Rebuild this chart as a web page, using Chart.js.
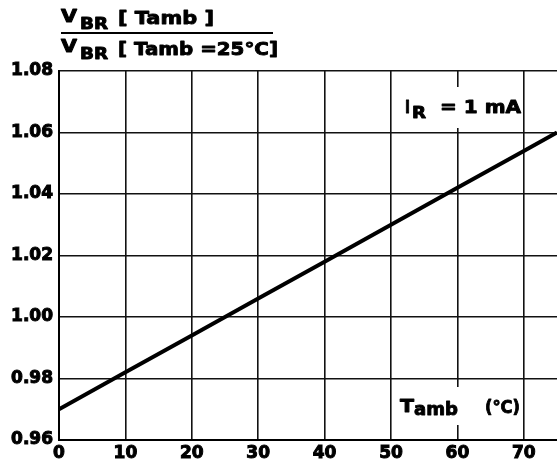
<!DOCTYPE html>
<html>
<head>
<meta charset="utf-8">
<script src="https://cdn.jsdelivr.net/npm/chart.js@4.4.1/dist/chart.umd.min.js"></script>
<style>
  html, body { margin: 0; padding: 0; background: #fff; }
  #wrap { width: 557px; height: 468px; position: relative; }
</style>
</head>
<body>
<div id="wrap"><canvas id="vbrChart"></canvas></div>
<script>
// values
const tempC = [0, 10, 20, 30, 40, 50, 60, 70, 75];
const vbrRatio = [0.970, 0.982, 0.994, 1.006, 1.018, 1.030, 1.042, 1.054, 1.060];
const xTicks = [0, 10, 20, 30, 40, 50, 60, 70];
const yTicks = [0.96, 0.98, 1.00, 1.02, 1.04, 1.06, 1.08];

const FONT = '"DejaVu Sans", "Liberation Sans", sans-serif';

// draw heavy text squeezed/stretched to a given width
function fitText(ctx, txt, x, y, size, w) {
    ctx.save();
    ctx.font = 'bold ' + size + 'px ' + FONT;
    const m = ctx.measureText(txt).width;
    ctx.translate(x, y);
    ctx.scale(w / m, 1);
    ctx.lineWidth = 0.9;
    ctx.strokeStyle = '#000';
    ctx.lineJoin = 'round';
    ctx.strokeText(txt, 0, 0);
    ctx.fillText(txt, 0, 0);
    ctx.restore();
}

const labelsPlugin = {
    id: 'labels',
    afterDraw(chart) {
        const ctx = chart.ctx;
        ctx.save();
        ctx.fillStyle = '#000';
        ctx.textBaseline = 'alphabetic';
        ctx.textAlign = 'left';

        // y axis title as a fraction
        fitText(ctx, 'V', 61, 22, 17, 16);
        fitText(ctx, 'BR', 80, 29, 15, 28);
        fitText(ctx, '[ Tamb ]', 118, 24, 18, 96);
        ctx.fillRect(61, 32, 212, 2);
        fitText(ctx, 'V', 61, 52, 17, 16);
        fitText(ctx, 'BR', 80, 59, 15, 28);
        fitText(ctx, '[ Tamb =25°C]', 118, 55, 18, 160);

        // IR = 1 mA box
        ctx.fillStyle = '#fff';
        ctx.fillRect(400, 87, 122, 41);
        ctx.fillStyle = '#000';
        fitText(ctx, 'I', 405, 113, 18, 5);
        fitText(ctx, 'R', 412, 118, 15, 14);
        fitText(ctx, '= 1 mA', 440, 113, 18, 81);

        // Tamb (°C) box
        ctx.fillStyle = '#fff';
        ctx.fillRect(398, 387, 125, 38);
        ctx.fillStyle = '#000';
        fitText(ctx, 'T', 400, 412, 18, 14);
        fitText(ctx, 'amb', 414, 415, 18, 44);
        fitText(ctx, '(°C)', 485, 413, 18, 35);
        ctx.restore();
    }
};

const tickFont = { family: FONT, size: 17, weight: 'bold' };

new Chart(document.getElementById('vbrChart').getContext('2d'), {
    type: 'line',
    data: {
        datasets: [{
            data: tempC.map((t, i) => ({ x: t, y: vbrRatio[i] })),
            borderColor: '#000',
            borderWidth: 4,
            pointRadius: 0,
            tension: 0
        }]
    },
    options: {
        responsive: true,
        maintainAspectRatio: false,
        animation: false,
        layout: { padding: { top: 71, right: 0, bottom: 0, left: 0 } },
        plugins: {
            legend: { display: false },
            tooltip: { enabled: false }
        },
        scales: {
            x: {
                type: 'linear',
                min: 0,
                max: 75,
                afterBuildTicks: (s) => { s.ticks = xTicks.map(v => ({ value: v })); },
                afterFit: (s) => { s.height = 28; },
                grid: { color: '#111', lineWidth: 1.6, drawTicks: false },
                border: { color: '#000', width: 2 },
                ticks: {
                    padding: 3,
                    color: '#000',
                    textStrokeColor: '#000',
                    textStrokeWidth: 1,
                    font: tickFont
                }
            },
            y: {
                min: 0.96,
                max: 1.08,
                afterBuildTicks: (s) => { s.ticks = yTicks.map(v => ({ value: v })); },
                afterFit: (s) => { s.width = 59; },
                grid: { color: '#111', lineWidth: 1.6, drawTicks: false },
                border: { color: '#000', width: 2 },
                ticks: {
                    padding: 6,
                    color: '#000',
                    textStrokeColor: '#000',
                    textStrokeWidth: 1,
                    font: tickFont,
                    callback: (v) => v.toFixed(2)
                }
            }
        }
    },
    plugins: [labelsPlugin]
});
</script>
</body>
</html>
